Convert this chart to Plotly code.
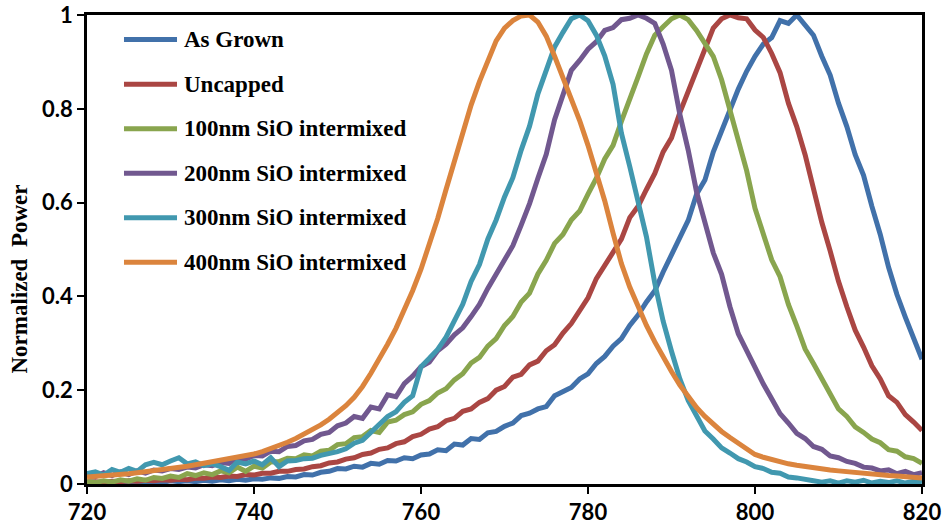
import plotly.graph_objects as go

# Emission wavelength grid (nm)
wavelength_nm = list(range(720, 821))

# Normalized photoluminescence power for each sample, one value per nm
as_grown = [
    .004, .002, .005, .003, .005, .002, .006, .004, .006, .003,
    .007, .005, .007, .005, .008, .006, .009, .007, .010, .008,
    .011, .010, .013, .012, .016, .015, .020, .019, .025, .027,
    .033, .032, .038, .036, .044, .042, .050, .049, .056, .054,
    .062, .064, .073, .071, .085, .083, .097, .095, .109, .112,
    .123, .130, .146, .151, .160, .165, .188, .196, .206, .224,
    .235, .257, .272, .294, .310, .338, .360, .388, .412, .452,
    .488, .528, .562, .618, .648, .708, .752, .803, .842, .880,
    .912, .938, .952, .988, .982, 1.0, .978, .957, .912, .872,
    .812, .762, .702, .658, .592, .532, .462, .404, .356, .308,
    .266,
]
uncapped = [
    .004, .005, .003, .006, .005, .007, .006, .008, .007, .009,
    .008, .010, .009, .012, .012, .015, .014, .017, .016, .020,
    .019, .023, .023, .027, .027, .031, .032, .037, .039, .045,
    .047, .053, .056, .063, .066, .074, .077, .086, .090, .101,
    .106, .117, .122, .135, .140, .155, .160, .174, .182, .200,
    .208, .228, .234, .254, .262, .284, .297, .322, .342, .372,
    .397, .438, .466, .498, .522, .568, .592, .628, .662, .708,
    .738, .792, .838, .882, .928, .972, .992, 1.0, .994, .992,
    .968, .952, .918, .877, .812, .762, .702, .628, .558, .497,
    .432, .378, .328, .292, .252, .224, .188, .174, .148, .132,
    .114,
]
sio_100nm = [
    .006, .003, .007, .004, .009, .006, .011, .008, .014, .012,
    .017, .014, .022, .018, .024, .020, .028, .024, .036, .027,
    .038, .034, .047, .048, .055, .054, .062, .060, .070, .072,
    .084, .086, .099, .101, .114, .110, .132, .136, .148, .154,
    .170, .178, .194, .203, .222, .235, .258, .270, .294, .310,
    .338, .357, .388, .407, .448, .477, .513, .532, .563, .582,
    .618, .652, .693, .722, .773, .817, .868, .917, .957, .975,
    .992, 1.0, .990, .967, .938, .912, .862, .798, .732, .668,
    .588, .533, .478, .442, .383, .337, .288, .257, .223, .192,
    .160, .144, .122, .110, .096, .088, .073, .070, .058, .054,
    .044,
]
sio_200nm = [
    .022, .016, .024, .018, .026, .020, .028, .023, .030, .028,
    .033, .031, .036, .034, .041, .039, .046, .044, .054, .053,
    .061, .060, .070, .069, .080, .082, .092, .095, .106, .110,
    .124, .130, .144, .140, .164, .160, .190, .186, .214, .230,
    .250, .260, .284, .298, .318, .333, .357, .383, .417, .448,
    .482, .508, .552, .598, .652, .703, .777, .833, .882, .903,
    .927, .943, .967, .973, .990, .993, 1.0, .993, .982, .938,
    .882, .788, .712, .623, .557, .493, .447, .378, .320, .283,
    .247, .213, .182, .150, .130, .108, .097, .080, .074, .060,
    .056, .048, .044, .036, .034, .028, .030, .022, .027, .020,
    .024,
]
sio_300nm = [
    .022, .026, .019, .031, .025, .033, .027, .041, .046, .041,
    .049, .056, .043, .047, .039, .043, .037, .029, .047, .043,
    .049, .041, .056, .037, .049, .050, .054, .055, .061, .064,
    .069, .075, .087, .093, .110, .124, .144, .154, .174, .188,
    .250, .268, .287, .313, .347, .383, .432, .468, .522, .563,
    .612, .653, .712, .763, .832, .883, .932, .963, .992, 1.0,
    .988, .957, .913, .852, .748, .677, .598, .527, .428, .347,
    .283, .224, .178, .146, .113, .096, .077, .066, .054, .047,
    .037, .033, .025, .023, .015, .013, .011, .007, .004, .007,
    .002, .007, .004, .008, .002, .006, .003, .007, .002, .006,
    .004,
]
sio_400nm = [
    .015, .016, .018, .019, .020, .022, .024, .026, .028, .030,
    .033, .035, .038, .041, .044, .047, .050, .053, .056, .060,
    .064, .069, .075, .082, .089, .097, .106, .115, .126, .138,
    .151, .167, .185, .208, .236, .266, .298, .332, .370, .412,
    .458, .510, .566, .628, .690, .750, .808, .858, .905, .945,
    .972, .988, .998, 1.0, .985, .955, .912, .868, .822, .775,
    .722, .665, .604, .535, .470, .420, .376, .338, .303, .270,
    .240, .211, .185, .163, .144, .127, .112, .099, .087, .076,
    .063, .057, .052, .047, .043, .040, .037, .034, .032, .030,
    .028, .026, .024, .022, .021, .019, .018, .017, .015, .014,
    .013,
]

series_names = [
    "As Grown",
    "Uncapped",
    "100nm SiO intermixed",
    "200nm SiO intermixed",
    "300nm SiO intermixed",
    "400nm SiO intermixed",
]
series_values = [as_grown, uncapped, sio_100nm, sio_200nm, sio_300nm, sio_400nm]
series_colors = ["#4171AA", "#AA4643", "#89A54E", "#71588F", "#4198AF", "#DB843D"]

x_ticks = [720, 740, 760, 780, 800, 820]
y_ticks = [0, 0.2, 0.4, 0.6, 0.8, 1]
y_tick_labels = ["0", "0.2", "0.4", "0.6", "0.8", "1"]

fig = go.Figure()
for name, vals, color in zip(series_names, series_values, series_colors):
    fig.add_trace(go.Scatter(
        x=wavelength_nm, y=vals, mode="lines", name=name,
        line=dict(color=color, width=5), showlegend=False,
    ))

# Hand-built key in the upper-left corner: a line sample plus a bold label per series
row_top = 0.9475
row_step = 0.0949
for i, (name, color) in enumerate(zip(series_names, series_colors)):
    yp = row_top - i * row_step
    fig.add_shape(type="line", xref="paper", yref="paper",
                  x0=0.0443, x1=0.1078, y0=yp, y1=yp,
                  line=dict(color=color, width=5))
    fig.add_annotation(xref="paper", yref="paper", x=0.1138, y=yp,
                       xanchor="left", yanchor="middle", showarrow=False,
                       text=name,
                       font=dict(family="Liberation Serif", size=23,
                                 color="black", weight="bold"))

# Vertical axis caption, sitting slightly below the axis midpoint
fig.add_annotation(xref="paper", yref="paper", x=-0.0808, y=0.437,
                   xanchor="center", yanchor="middle", showarrow=False,
                   textangle=-90, text="Normalized\u00a0 Power",
                   font=dict(family="Liberation Serif", size=23,
                             color="black", weight="bold"))

tick_font = dict(family="Lato", size=22, color="black", weight="bold")

fig.update_layout(
    width=944, height=527,
    margin=dict(l=87, r=22, t=15, b=43),
    paper_bgcolor="white", plot_bgcolor="white",
    xaxis=dict(
        range=[720, 820], tickvals=x_ticks, ticks="outside", ticklen=7,
        tickwidth=2, tickcolor="black", showline=True, linecolor="black",
        linewidth=2.5, mirror=True, showgrid=False, zeroline=False,
        tickfont=tick_font, automargin=False,
    ),
    yaxis=dict(
        range=[0, 1], tickvals=y_ticks, ticktext=y_tick_labels,
        ticks="outside", ticklen=7, tickwidth=2, tickcolor="black",
        showline=True, linecolor="black", linewidth=2.5, mirror=True,
        showgrid=False, zeroline=False, tickfont=tick_font, automargin=False,
    ),
)

fig.write_html("out.html")
